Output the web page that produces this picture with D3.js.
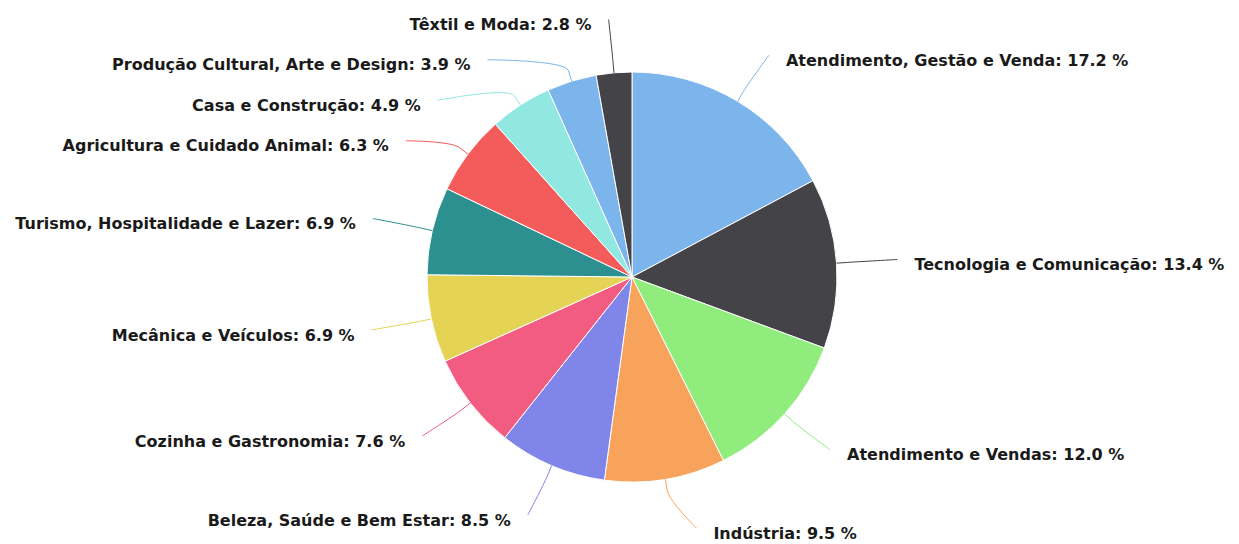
<!DOCTYPE html>
<html>
<head>
<meta charset="utf-8">
<script src="https://cdn.jsdelivr.net/npm/d3@7"></script>
<style>
  body { margin: 0; background: #fff; }
  svg { display: block; }
</style>
</head>
<body>
<svg width="1239" height="544"></svg>
<script>
var categories = [
  'Atendimento, Gestão e Venda', 'Tecnologia e Comunicação', 'Atendimento e Vendas',
  'Indústria', 'Beleza, Saúde e Bem Estar', 'Cozinha e Gastronomia',
  'Mecânica e Veículos', 'Turismo, Hospitalidade e Lazer', 'Agricultura e Cuidado Animal',
  'Casa e Construção', 'Produção Cultural, Arte e Design', 'Têxtil e Moda'
];
var values = [17.2, 13.4, 12.0, 9.5, 8.5, 7.6, 6.9, 6.9, 6.3, 4.9, 3.9, 2.8];
var colors = ['#7cb5ec', '#434348', '#90ed7d', '#f7a35c', '#8085e9', '#f15c80',
  '#e4d354', '#2b908f', '#f45b5b', '#91e8e1', '#7cb5ec', '#434348'];

var cx = 632, cy = 277, r = 205;
var labelRx = 266, labelRy = 258.7, spacing = 40.5, topY = 19, bottomY = 528;

var data = categories.map(function (c, i) { return {name: c, value: values[i], color: colors[i]}; });

var svg = d3.select('svg');
var g = svg.append('g').attr('transform', 'translate(' + cx + ',' + cy + ')');

var pie = d3.pie().sort(null).value(function (d) { return d.value; });
var arc = d3.arc().innerRadius(0).outerRadius(r);
var arcs = pie(data);

g.selectAll('path.slice')
  .data(arcs)
  .enter().append('path')
  .attr('class', 'slice')
  .attr('d', arc)
  .attr('fill', function (d) { return d.data.color; })
  .attr('stroke', '#fff')
  .attr('stroke-width', 1);

// label positions
arcs.forEach(function (d) {
  d.mid = (d.startAngle + d.endAngle) / 2;
  d.left = Math.sin(d.mid) < 0;
  d.ly = -labelRy * Math.cos(d.mid);
});

function distribute(list) {
  list.sort(function (a, b) { return a.ly - b.ly; });
  var prev = -Infinity;
  list.forEach(function (d) {
    d.ly = Math.max(d.ly, prev + spacing, topY - cy);
    prev = d.ly;
  });
  var next = Infinity;
  for (var i = list.length - 1; i >= 0; i--) {
    list[i].ly = Math.min(list[i].ly, next - spacing, bottomY - cy);
    next = list[i].ly;
  }
}
distribute(arcs.filter(function (d) { return d.left; }));
distribute(arcs.filter(function (d) { return !d.left; }));

arcs.forEach(function (d) {
  var s = d.left ? -1 : 1;
  var k = Math.min(1, Math.abs(d.ly) / labelRy);
  d.lx = s * labelRx * Math.sqrt(1 - k * k);
  d.touch = [r * Math.sin(d.mid), -r * Math.cos(d.mid)];
  d.brk = [(r + 11) * Math.sin(d.mid), -(r + 11) * Math.cos(d.mid)];
});

g.selectAll('path.connector')
  .data(arcs)
  .enter().append('path')
  .attr('class', 'connector')
  .attr('fill', 'none')
  .attr('stroke', function (d) { return d.data.color; })
  .attr('stroke-width', 1)
  .attr('d', function (d) {
    var p = d3.path();
    p.moveTo(d.lx, d.ly);
    p.bezierCurveTo(d.lx, d.ly,
      2 * d.brk[0] - d.touch[0], 2 * d.brk[1] - d.touch[1],
      d.brk[0], d.brk[1]);
    p.lineTo(d.touch[0], d.touch[1]);
    return p.toString();
  });

g.selectAll('text.label')
  .data(arcs)
  .enter().append('text')
  .attr('class', 'label')
  .attr('x', function (d) { return d.lx + (d.left ? -17 : 17); })
  .attr('y', function (d) { return d.ly + 5; })
  .attr('dy', '0.35em')
  .attr('text-anchor', function (d) { return d.left ? 'end' : 'start'; })
  .attr('font-family', 'DejaVu Sans, sans-serif')
  .attr('font-weight', 'bold')
  .attr('font-size', '16px')
  .attr('fill', '#1a1a1a')
  .text(function (d) { return d.data.name + ': ' + d.data.value.toFixed(1) + ' %'; });
</script>
</body>
</html>
